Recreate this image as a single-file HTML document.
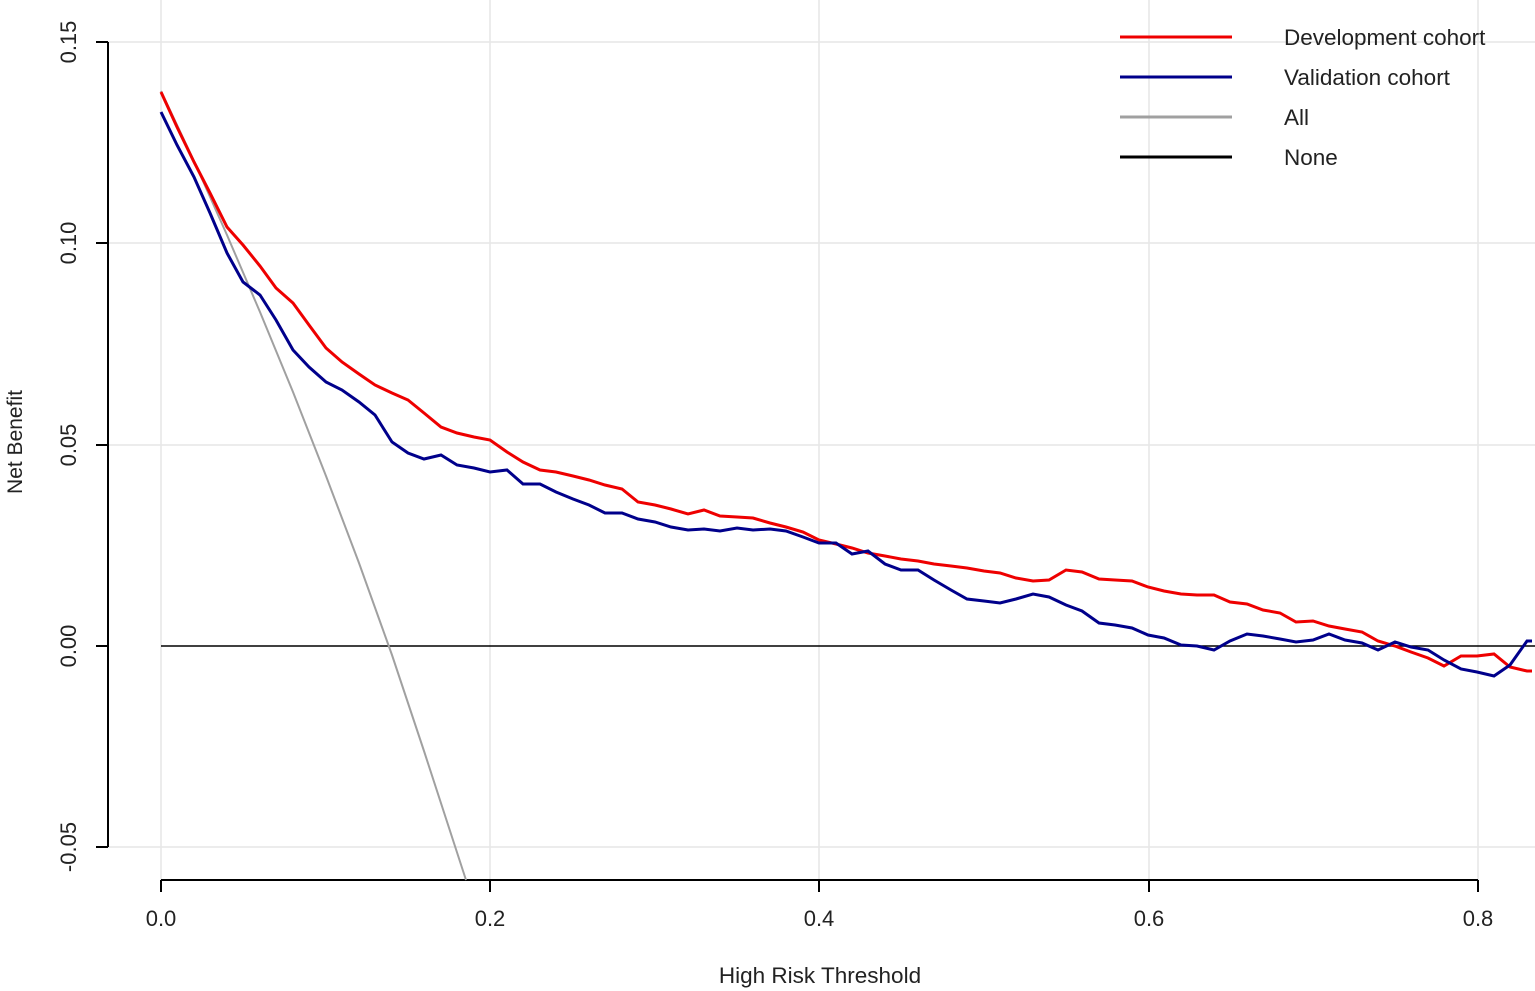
<!DOCTYPE html>
<html><head><meta charset="utf-8"><style>
html,body{margin:0;padding:0;background:#fff;}
svg{display:block;font-family:"Liberation Sans",Arial,sans-serif;}
</style></head><body>
<svg width="1535" height="991" viewBox="0 0 1535 991" xmlns="http://www.w3.org/2000/svg">
<g stroke="#e6e6e6" stroke-width="1.5">
<line x1="161" y1="0" x2="161" y2="880"/><line x1="490" y1="0" x2="490" y2="880"/><line x1="819" y1="0" x2="819" y2="880"/><line x1="1149" y1="0" x2="1149" y2="880"/><line x1="1478" y1="0" x2="1478" y2="880"/>
<line x1="108" y1="42" x2="1535" y2="42"/><line x1="108" y1="243" x2="1535" y2="243"/><line x1="108" y1="445" x2="1535" y2="445"/><line x1="108" y1="847" x2="1535" y2="847"/>
</g>
<g stroke="#000" stroke-width="2" fill="none">
<line x1="108" y1="42" x2="108" y2="847"/>
<line x1="96" y1="42" x2="108" y2="42"/><line x1="96" y1="243" x2="108" y2="243"/><line x1="96" y1="445" x2="108" y2="445"/><line x1="96" y1="646" x2="108" y2="646"/><line x1="96" y1="847" x2="108" y2="847"/>
<line x1="161" y1="880" x2="1478" y2="880"/>
<line x1="161" y1="880" x2="161" y2="892"/><line x1="490" y1="880" x2="490" y2="892"/><line x1="819" y1="880" x2="819" y2="892"/><line x1="1149" y1="880" x2="1149" y2="892"/><line x1="1478" y1="880" x2="1478" y2="892"/>
</g>
<g font-size="22" fill="#222">
<text x="76" y="42" transform="rotate(-90 76 42)" text-anchor="middle">0.15</text>
<text x="76" y="243" transform="rotate(-90 76 243)" text-anchor="middle">0.10</text>
<text x="76" y="445" transform="rotate(-90 76 445)" text-anchor="middle">0.05</text>
<text x="76" y="646" transform="rotate(-90 76 646)" text-anchor="middle">0.00</text>
<text x="76" y="847" transform="rotate(-90 76 847)" text-anchor="middle">-0.05</text>
<text x="161" y="926" text-anchor="middle">0.0</text>
<text x="490" y="926" text-anchor="middle">0.2</text>
<text x="819" y="926" text-anchor="middle">0.4</text>
<text x="1149" y="926" text-anchor="middle">0.6</text>
<text x="1478" y="926" text-anchor="middle">0.8</text>
<text x="820" y="983" text-anchor="middle" font-size="22.5">High Risk Threshold</text>
<text x="22" y="442" transform="rotate(-90 22 442)" text-anchor="middle" font-size="21">Net Benefit</text>
</g>
<line x1="161" y1="646" x2="1535" y2="646" stroke="#000" stroke-width="1.5"/>
<polyline fill="none" stroke="#a0a0a0" stroke-width="2" points="161,91 194,161 227,235 260,312 293,392 326,476 359,563 392,655 424,751 466,880"/>
<polyline fill="none" stroke="#ee0000" stroke-width="3" points="161,92 177,127 194,162 210,193 227,227 243,245 260,266 276,288 293,303 309,325 326,348 342,362 359,374 375,385 392,393 408,400 424,413 441,427 457,433 474,437 490,440 507,452 523,462 540,470 556,472 573,476 589,480 605,485 622,489 638,502 655,505 671,509 688,514 704,510 720,516 737,517 753,518 770,523 786,527 803,532 819,540 836,544 852,548 868,553 885,556 901,559 918,561 934,564 951,566 967,568 984,571 1000,573 1016,578 1033,581 1049,580 1066,570 1082,572 1099,579 1115,580 1132,581 1148,587 1164,591 1181,594 1197,595 1214,595 1230,602 1247,604 1263,610 1280,613 1296,622 1313,621 1329,626 1345,629 1362,632 1378,641 1395,646 1411,652 1428,658 1444,666 1461,656 1477,656 1494,654 1510,667 1527,671 1532,671"/>
<polyline fill="none" stroke="#00008b" stroke-width="3" points="161,112 177,145 194,177 210,213 227,253 243,282 260,295 276,320 293,350 309,367 326,382 342,390 359,402 375,415 392,442 408,453 424,459 441,455 457,465 474,468 490,472 507,470 523,484 540,484 556,492 573,499 589,505 605,513 622,513 638,519 655,522 671,527 688,530 704,529 720,531 737,528 753,530 770,529 786,531 803,537 819,543 836,543 852,554 868,551 885,564 901,570 918,570 934,580 951,590 967,599 984,601 1000,603 1016,599 1033,594 1049,597 1066,605 1082,611 1099,623 1115,625 1132,628 1148,635 1164,638 1181,645 1197,646 1214,650 1230,641 1247,634 1263,636 1280,639 1296,642 1313,640 1329,634 1345,640 1362,643 1378,650 1395,642 1411,647 1428,650 1444,660 1461,669 1477,672 1494,676 1510,665 1527,641 1532,641"/>
<g stroke-width="3">
<line x1="1120" y1="37" x2="1232" y2="37" stroke="#ee0000"/>
<line x1="1120" y1="77" x2="1232" y2="77" stroke="#00008b"/>
<line x1="1120" y1="117" x2="1232" y2="117" stroke="#a0a0a0"/>
<line x1="1120" y1="157" x2="1232" y2="157" stroke="#000"/>
</g>
<g font-size="22.5" fill="#222">
<text x="1284" y="45">Development cohort</text>
<text x="1284" y="85">Validation cohort</text>
<text x="1284" y="125">All</text>
<text x="1284" y="165">None</text>
</g>
</svg>
</body></html>
